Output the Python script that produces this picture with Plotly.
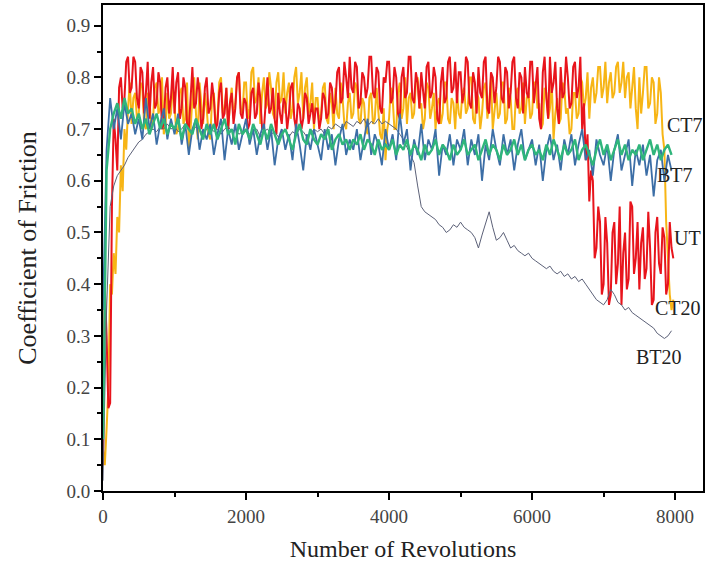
import plotly.graph_objects as go

# Sample grids (revolutions)
revolutions_fine = list(range(0, 8000, 25))
revolutions = list(range(0, 8000, 50))

ut = [0.05, 0.40, 0.30, 0.16, 0.17, 0.55, 0.72, 0.68, 0.62, 0.78, 0.80, 0.74, 0.76, 0.83, 0.84, 0.77, 0.78, 0.84, 0.83, 0.76,
      0.74, 0.82, 0.81, 0.73, 0.77, 0.83, 0.72, 0.79, 0.82, 0.74, 0.75, 0.81, 0.79, 0.70, 0.71, 0.78, 0.80, 0.73, 0.76, 0.82,
      0.73, 0.79, 0.81, 0.72, 0.74, 0.80, 0.78, 0.71, 0.70, 0.77, 0.82, 0.74, 0.75, 0.80, 0.77, 0.70, 0.72, 0.78, 0.80, 0.73,
      0.74, 0.79, 0.76, 0.70, 0.71, 0.77, 0.79, 0.72, 0.73, 0.78, 0.70, 0.75, 0.77, 0.71, 0.74, 0.80, 0.81, 0.73, 0.72, 0.76,
      0.75, 0.70, 0.71, 0.77, 0.78, 0.72, 0.73, 0.79, 0.76, 0.70, 0.70, 0.75, 0.80, 0.73, 0.74, 0.78, 0.72, 0.69, 0.77, 0.73,
      0.71, 0.76, 0.75, 0.70, 0.73, 0.78, 0.79, 0.72, 0.70, 0.75, 0.74, 0.70, 0.72, 0.77, 0.76, 0.71, 0.73, 0.75, 0.71, 0.74,
      0.74, 0.70, 0.72, 0.77, 0.76, 0.72, 0.73, 0.79, 0.78, 0.73, 0.75, 0.81, 0.82, 0.75, 0.76, 0.83, 0.80, 0.76, 0.84, 0.78,
      0.77, 0.83, 0.82, 0.74, 0.75, 0.81, 0.80, 0.76, 0.78, 0.84, 0.84, 0.77, 0.76, 0.82, 0.81, 0.74, 0.73, 0.80, 0.79, 0.83,
      0.83, 0.75, 0.76, 0.82, 0.80, 0.73, 0.72, 0.80, 0.82, 0.76, 0.77, 0.84, 0.84, 0.76, 0.75, 0.81, 0.79, 0.74, 0.81, 0.77,
      0.74, 0.82, 0.83, 0.76, 0.77, 0.82, 0.80, 0.72, 0.71, 0.79, 0.82, 0.75, 0.76, 0.83, 0.84, 0.77, 0.78, 0.83, 0.75, 0.81,
      0.81, 0.75, 0.77, 0.84, 0.83, 0.75, 0.74, 0.81, 0.79, 0.73, 0.82, 0.77, 0.76, 0.83, 0.84, 0.74, 0.73, 0.81, 0.80, 0.75,
      0.78, 0.84, 0.83, 0.76, 0.75, 0.82, 0.81, 0.74, 0.77, 0.83, 0.84, 0.76, 0.74, 0.81, 0.80, 0.73, 0.82, 0.77, 0.76, 0.83,
      0.83, 0.75, 0.78, 0.82, 0.72, 0.70, 0.81, 0.84, 0.76, 0.72, 0.84, 0.77, 0.79, 0.83, 0.74, 0.71, 0.82, 0.76, 0.77, 0.84,
      0.80, 0.74, 0.75, 0.82, 0.83, 0.76, 0.78, 0.84, 0.70, 0.75, 0.64, 0.69, 0.56, 0.62, 0.60, 0.45, 0.47, 0.55, 0.52, 0.38,
      0.40, 0.53, 0.48, 0.36, 0.38, 0.50, 0.52, 0.40, 0.44, 0.55, 0.36, 0.46, 0.50, 0.39, 0.41, 0.56, 0.55, 0.42, 0.45, 0.52,
      0.39, 0.48, 0.51, 0.41, 0.43, 0.54, 0.47, 0.36, 0.37, 0.50, 0.53, 0.44, 0.42, 0.51, 0.49, 0.38, 0.40, 0.52, 0.47, 0.45]

ct20 = [0.08, 0.05, 0.12, 0.20, 0.40, 0.38, 0.46, 0.42, 0.53, 0.50, 0.63, 0.58, 0.70, 0.66, 0.74, 0.79, 0.71, 0.76, 0.77, 0.72,
        0.73, 0.79, 0.78, 0.71, 0.70, 0.77, 0.76, 0.70, 0.72, 0.78, 0.79, 0.73, 0.74, 0.80, 0.69, 0.71, 0.77, 0.72, 0.73, 0.78,
        0.75, 0.69, 0.70, 0.77, 0.78, 0.71, 0.72, 0.79, 0.66, 0.70, 0.76, 0.80, 0.73, 0.68, 0.79, 0.74, 0.71, 0.77, 0.74, 0.69,
        0.68, 0.76, 0.77, 0.71, 0.72, 0.79, 0.80, 0.73, 0.74, 0.78, 0.70, 0.75, 0.78, 0.72, 0.75, 0.80, 0.81, 0.74, 0.73, 0.79,
        0.79, 0.72, 0.74, 0.81, 0.82, 0.75, 0.76, 0.80, 0.71, 0.77, 0.80, 0.74, 0.75, 0.81, 0.78, 0.73, 0.72, 0.79, 0.81, 0.75,
        0.76, 0.81, 0.73, 0.77, 0.79, 0.72, 0.74, 0.80, 0.82, 0.75, 0.77, 0.81, 0.72, 0.78, 0.80, 0.73, 0.75, 0.79, 0.70, 0.76,
        0.76, 0.71, 0.73, 0.78, 0.79, 0.72, 0.71, 0.77, 0.75, 0.70, 0.78, 0.73, 0.72, 0.79, 0.76, 0.71, 0.70, 0.75, 0.77, 0.72,
        0.73, 0.79, 0.78, 0.72, 0.71, 0.76, 0.75, 0.70, 0.69, 0.76, 0.77, 0.71, 0.72, 0.78, 0.74, 0.69, 0.68, 0.74, 0.64, 0.70,
        0.72, 0.78, 0.76, 0.70, 0.70, 0.77, 0.79, 0.72, 0.74, 0.80, 0.71, 0.76, 0.77, 0.72, 0.73, 0.79, 0.80, 0.74, 0.75, 0.70,
        0.72, 0.79, 0.78, 0.72, 0.74, 0.77, 0.70, 0.75, 0.76, 0.71, 0.73, 0.79, 0.79, 0.72, 0.71, 0.76, 0.75, 0.70, 0.77, 0.73,
        0.72, 0.77, 0.78, 0.73, 0.74, 0.80, 0.80, 0.72, 0.71, 0.77, 0.76, 0.70, 0.73, 0.78, 0.79, 0.72, 0.75, 0.80, 0.70, 0.74,
        0.77, 0.72, 0.73, 0.79, 0.79, 0.71, 0.72, 0.78, 0.76, 0.70, 0.70, 0.77, 0.78, 0.73, 0.74, 0.79, 0.71, 0.76, 0.77, 0.72,
        0.73, 0.79, 0.79, 0.74, 0.75, 0.70, 0.71, 0.78, 0.77, 0.72, 0.74, 0.79, 0.68, 0.73, 0.76, 0.71, 0.72, 0.79, 0.78, 0.73,
        0.74, 0.69, 0.70, 0.77, 0.77, 0.72, 0.73, 0.80, 0.79, 0.74, 0.76, 0.81, 0.72, 0.78, 0.80, 0.75, 0.77, 0.82, 0.82, 0.76,
        0.78, 0.83, 0.75, 0.79, 0.81, 0.76, 0.77, 0.82, 0.83, 0.77, 0.79, 0.83, 0.76, 0.80, 0.81, 0.74, 0.78, 0.82, 0.74, 0.70,
        0.80, 0.73, 0.77, 0.82, 0.82, 0.74, 0.75, 0.80, 0.79, 0.71, 0.73, 0.80, 0.77, 0.69, 0.66, 0.52, 0.45, 0.38, 0.35, 0.37]

ct7 = [0.10, 0.62, 0.70, 0.73, 0.75, 0.72, 0.76, 0.73, 0.74, 0.71,
       0.73, 0.70, 0.72, 0.69, 0.71, 0.73, 0.70, 0.72, 0.69, 0.71,
       0.70, 0.72, 0.68, 0.71, 0.70, 0.69, 0.72, 0.70, 0.68, 0.71,
       0.69, 0.71, 0.68, 0.70, 0.72, 0.69, 0.70, 0.67, 0.71, 0.69,
       0.70, 0.68, 0.71, 0.69, 0.67, 0.70, 0.68, 0.71, 0.69, 0.67,
       0.69, 0.70, 0.68, 0.66, 0.69, 0.71, 0.68, 0.67, 0.70, 0.68,
       0.67, 0.69, 0.68, 0.70, 0.66, 0.68, 0.69, 0.67, 0.68, 0.66,
       0.68, 0.67, 0.69, 0.66, 0.68, 0.67, 0.65, 0.68, 0.66, 0.67,
       0.66, 0.68, 0.65, 0.67, 0.66, 0.68, 0.65, 0.67, 0.66, 0.64,
       0.67, 0.65, 0.66, 0.68, 0.65, 0.67, 0.66, 0.64, 0.67, 0.65,
       0.66, 0.68, 0.65, 0.66, 0.67, 0.64, 0.66, 0.68, 0.65, 0.67,
       0.66, 0.64, 0.67, 0.65, 0.66, 0.68, 0.65, 0.67, 0.64, 0.66,
       0.67, 0.65, 0.66, 0.64, 0.67, 0.65, 0.68, 0.66, 0.64, 0.67,
       0.65, 0.66, 0.68, 0.64, 0.66, 0.67, 0.65, 0.63, 0.66, 0.68,
       0.65, 0.67, 0.64, 0.66, 0.68, 0.65, 0.67, 0.64, 0.66, 0.65,
       0.67, 0.64, 0.66, 0.68, 0.65, 0.67, 0.64, 0.66, 0.67, 0.65]

bt7 = [0.35, 0.66, 0.76, 0.70, 0.74, 0.68, 0.75, 0.71, 0.73, 0.69,
       0.72, 0.68, 0.76, 0.70, 0.73, 0.67, 0.71, 0.74, 0.68, 0.72,
       0.69, 0.73, 0.67, 0.71, 0.65, 0.70, 0.72, 0.66, 0.70, 0.68,
       0.71, 0.65, 0.69, 0.72, 0.64, 0.70, 0.67, 0.71, 0.66, 0.69,
       0.72, 0.67, 0.70, 0.65, 0.69, 0.71, 0.66, 0.70, 0.63, 0.68,
       0.70, 0.66, 0.69, 0.64, 0.71, 0.67, 0.62, 0.69, 0.66, 0.70,
       0.67, 0.64, 0.70, 0.66, 0.69, 0.63, 0.68, 0.71, 0.65, 0.68,
       0.66, 0.70, 0.64, 0.68, 0.72, 0.65, 0.69, 0.67, 0.63, 0.70,
       0.66, 0.69, 0.64, 0.73, 0.67, 0.70, 0.62, 0.68, 0.65, 0.71,
       0.64, 0.68, 0.66, 0.70, 0.61, 0.67, 0.65, 0.69, 0.63, 0.68,
       0.66, 0.70, 0.63, 0.68, 0.65, 0.69, 0.60, 0.67, 0.64, 0.70,
       0.66, 0.63, 0.69, 0.65, 0.68, 0.62, 0.67, 0.70, 0.64, 0.66,
       0.68, 0.63, 0.67, 0.60, 0.66, 0.69, 0.64, 0.67, 0.62, 0.68,
       0.65, 0.69, 0.63, 0.67, 0.70, 0.64, 0.66, 0.61, 0.68, 0.65,
       0.63, 0.67, 0.60, 0.66, 0.69, 0.62, 0.65, 0.68, 0.59, 0.66,
       0.63, 0.67, 0.61, 0.65, 0.57, 0.64, 0.66, 0.60, 0.65, 0.62]

bt20 = [0.02, 0.35, 0.55, 0.59, 0.61, 0.62, 0.63, 0.645, 0.655, 0.665,
        0.675, 0.68, 0.69, 0.695, 0.70, 0.695, 0.705, 0.70, 0.71, 0.70,
        0.705, 0.695, 0.70, 0.71, 0.70, 0.695, 0.705, 0.70, 0.69, 0.70,
        0.705, 0.695, 0.70, 0.69, 0.70, 0.705, 0.695, 0.70, 0.69, 0.695,
        0.70, 0.69, 0.695, 0.70, 0.685, 0.695, 0.70, 0.69, 0.695, 0.685,
        0.69, 0.70, 0.685, 0.695, 0.69, 0.70, 0.695, 0.685, 0.69, 0.70,
        0.695, 0.70, 0.69, 0.705, 0.70, 0.71, 0.705, 0.70, 0.715, 0.71,
        0.705, 0.715, 0.71, 0.72, 0.705, 0.715, 0.71, 0.72, 0.71, 0.715,
        0.71, 0.705, 0.70, 0.69, 0.68, 0.665, 0.65, 0.635, 0.59, 0.55,
        0.54, 0.535, 0.53, 0.525, 0.515, 0.51, 0.50, 0.505, 0.515, 0.51,
        0.52, 0.51, 0.505, 0.50, 0.49, 0.47, 0.495, 0.52, 0.54, 0.51,
        0.485, 0.49, 0.50, 0.485, 0.47, 0.475, 0.465, 0.46, 0.455, 0.46,
        0.45, 0.445, 0.44, 0.435, 0.43, 0.435, 0.425, 0.42, 0.425, 0.415,
        0.42, 0.41, 0.415, 0.405, 0.41, 0.40, 0.39, 0.38, 0.37, 0.365,
        0.36, 0.37, 0.39, 0.38, 0.365, 0.36, 0.35, 0.355, 0.345, 0.34,
        0.335, 0.33, 0.325, 0.32, 0.315, 0.305, 0.30, 0.295, 0.30, 0.31]

label_names = ["CT7", "BT7", "UT", "CT20", "BT20"]
label_x = [8140, 8003, 8177, 8037, 7775]
label_y = [0.708, 0.612, 0.49, 0.354, 0.259]

x_tickvals = [0, 2000, 4000, 6000, 8000]
y_tickvals = [0.0, 0.1, 0.2, 0.3, 0.4, 0.5, 0.6, 0.7, 0.8, 0.9]
y_ticktext = ["0.0", "0.1", "0.2", "0.3", "0.4", "0.5", "0.6", "0.7", "0.8", "0.9"]

FONT = "Liberation Serif, Times New Roman, serif"

fig = go.Figure()
series = [
    ("CT20", revolutions_fine, ct20, "#f7b515", 2.0),
    ("UT", revolutions_fine, ut, "#e8141c", 2.0),
    ("BT20", revolutions, bt20, "#5c6178", 1.0),
    ("BT7", revolutions, bt7, "#3c6ea6", 1.8),
    ("CT7", revolutions, ct7, "#2fb57b", 2.4),
]
for name, xs, vals, color, w in series:
    fig.add_trace(go.Scatter(x=xs, y=vals, mode="lines", name=name,
                             line=dict(color=color, width=w), showlegend=False))

for n, lx, ly in zip(label_names, label_x, label_y):
    fig.add_annotation(x=lx, y=ly, text=n, showarrow=False, xref="x", yref="y",
                       font=dict(family=FONT, size=20, color="#222222"))

axis_common = dict(showline=True, linecolor="black", linewidth=2, mirror=True,
                   ticks="outside", tickcolor="black", tickwidth=2, ticklen=7,
                   showgrid=False, zeroline=False,
                   tickfont=dict(family=FONT, size=19, color="#444444"))

fig.update_xaxes(range=[0, 8390], tickvals=x_tickvals,
                 minor=dict(dtick=1000, tick0=0, ticks="outside", ticklen=4,
                            tickwidth=2, tickcolor="black"),
                 title=dict(text="Number of Revolutions",
                            font=dict(family=FONT, size=24, color="#222222"),
                            standoff=14),
                 **axis_common)
fig.update_yaxes(range=[0, 0.94], tickvals=y_tickvals, ticktext=y_ticktext,
                 minor=dict(dtick=0.05, tick0=0, ticks="outside", ticklen=4,
                            tickwidth=2, tickcolor="black"),
                 title=dict(text="Coefficient of Friction",
                            font=dict(family=FONT, size=26, color="#222222"),
                            standoff=22),
                 **axis_common)

fig.update_layout(width=706, height=569,
                  margin=dict(l=103, r=1, t=5, b=78),
                  paper_bgcolor="white", plot_bgcolor="white")

fig.write_html("out.html")
